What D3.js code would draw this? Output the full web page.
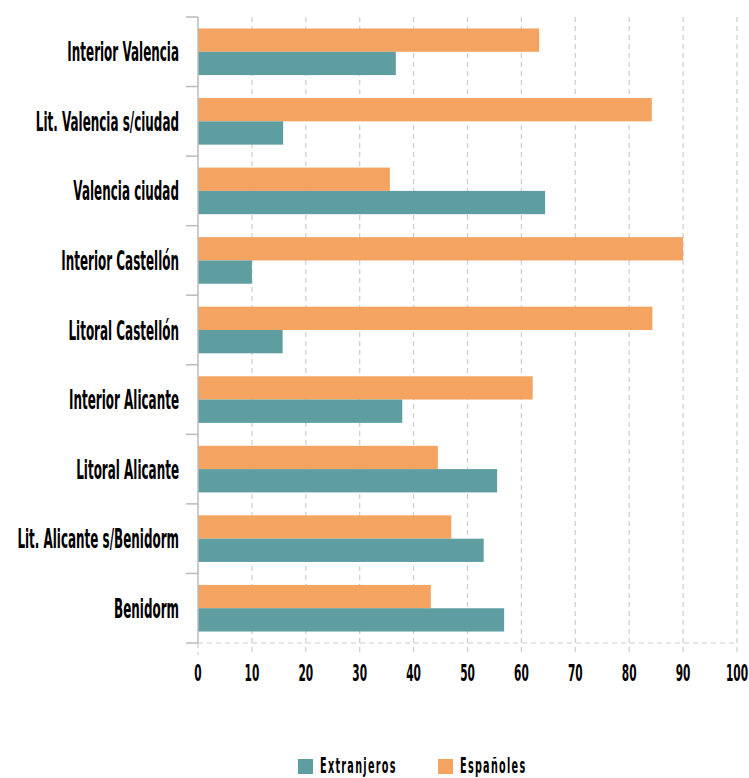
<!DOCTYPE html>
<html><head><meta charset="utf-8">
<script src="https://cdn.jsdelivr.net/npm/d3@7"></script>
<style>
body{margin:0;background:#fff;}
text{font-family:"DejaVu Sans",sans-serif;font-weight:bold;fill:#000;}
</style></head>
<body><svg id="c" width="749" height="778"></svg>
<script>
const categories = ["Interior Valencia","Lit. Valencia s/ciudad","Valencia ciudad","Interior Castellón","Litoral Castellón","Interior Alicante","Litoral Alicante","Lit. Alicante s/Benidorm","Benidorm"];
const espanoles = [63.3,84.2,35.6,90.0,84.3,62.1,44.5,47.0,43.2];
const extranjeros = [36.7,15.8,64.4,10.0,15.7,37.9,55.5,53.0,56.8];
const xTicks = [0,10,20,30,40,50,60,70,80,90,100];
const seriesNames = ["Extranjeros","Españoles"];
const colors = {"Españoles":"#F4A460","Extranjeros":"#5F9EA0"};

const SX = 0.46; // horizontal condensing of the font
const svg = d3.select("#c");
const L=198, R=737, T=17, B=643;
const x = d3.scaleLinear().domain([0,100]).range([L,R]);
const y = d3.scaleBand().domain(categories).range([T,B]).paddingInner(0.33).paddingOuter(0.165);
const sub = d3.scaleBand().domain(["Españoles","Extranjeros"]).range([0,y.bandwidth()]);

// vertical grid
svg.append("g").selectAll("line").data(xTicks.slice(1)).join("line")
  .attr("x1",d=>x(d)).attr("x2",d=>x(d)).attr("y1",T).attr("y2",B+12)
  .attr("stroke","#ccc").attr("stroke-width",1.2).attr("stroke-dasharray","5,4");
svg.append("line").attr("x1",L).attr("x2",L).attr("y1",B).attr("y2",B+12)
  .attr("stroke","#ccc").attr("stroke-width",1.2).attr("stroke-dasharray","5,4");
// bottom dashed line
svg.append("line").attr("x1",L).attr("x2",R).attr("y1",B).attr("y2",B)
  .attr("stroke","#ccc").attr("stroke-width",1.2).attr("stroke-dasharray","5,4");

const data = categories.map((c,i)=>({c, "Españoles":espanoles[i], "Extranjeros":extranjeros[i]}));
const g = svg.append("g");
data.forEach(d=>{
  ["Españoles","Extranjeros"].forEach(s=>{
    g.append("rect").attr("x",x(0)).attr("y",y(d.c)+sub(s))
     .attr("width",x(d[s])-x(0)).attr("height",sub.bandwidth()).attr("fill",colors[s]);
  });
});

// y axis line & ticks at band boundaries
svg.append("line").attr("x1",L).attr("x2",L).attr("y1",T).attr("y2",B).attr("stroke","#bbb").attr("stroke-width",1.5);
const bounds = d3.range(categories.length+1).map(i=>T+i*(B-T)/categories.length);
svg.append("g").selectAll("line").data(bounds).join("line")
  .attr("x1",L-12).attr("x2",L).attr("y1",d=>d).attr("y2",d=>d).attr("stroke","#bbb").attr("stroke-width",1.5);

// category labels
svg.append("g").selectAll("text").data(categories).join("text")
  .attr("transform",c=>`translate(${L-19},${y(c)+y.bandwidth()/2+9.5}) scale(${SX},1)`)
  .attr("text-anchor","end").attr("font-size",26).text(c=>c);

// x tick labels
svg.append("g").selectAll("text").data(xTicks).join("text")
  .attr("transform",d=>`translate(${x(d)},681) scale(${SX},1)`)
  .attr("text-anchor","middle").attr("font-size",23).text(d=>d);

// legend
const leg = svg.append("g");
const legX = [298,438];
seriesNames.forEach((s,i)=>{
  leg.append("rect").attr("x",legX[i]).attr("y",759).attr("width",15).attr("height",15).attr("fill",colors[s]);
  leg.append("text").attr("transform",`translate(${legX[i]+22},772.5) scale(${SX},1)`)
    .attr("font-size",21).attr("letter-spacing",2.8).text(s);
});
</script></body></html>
